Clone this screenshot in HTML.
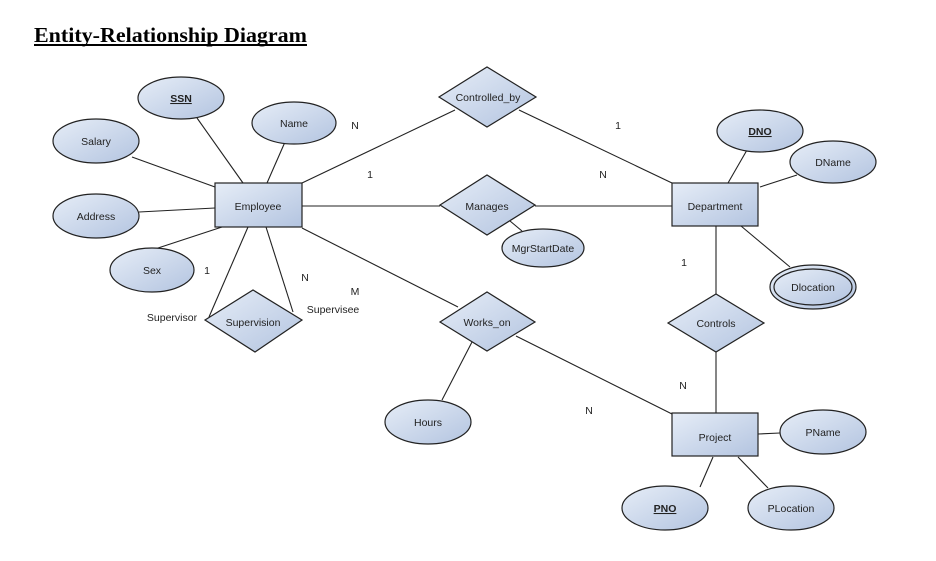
<!DOCTYPE html>
<html><head><meta charset="utf-8"><style>
html,body{margin:0;padding:0;background:#fff;}
svg{display:block;}
text{font-family:"Liberation Sans",sans-serif;font-size:10.5px;fill:#222;}
</style></head><body>
<svg width="936" height="561" viewBox="0 0 936 561" xmlns="http://www.w3.org/2000/svg">
<defs>
<linearGradient id="g" x1="0" y1="0" x2="1" y2="1">
<stop offset="0" stop-color="#e6edf7"/><stop offset="1" stop-color="#b3c4e0"/>
</linearGradient>
</defs>
<text x="34" y="42" style="font-family:'Liberation Serif',serif;font-size:21px;font-weight:bold;fill:#000" textLength="273" lengthAdjust="spacingAndGlyphs">Entity-Relationship Diagram</text>
<line x1="34" y1="45" x2="307" y2="45" stroke="#000" stroke-width="2"/>
<g stroke="#222" stroke-width="1.1" fill="none">
<line x1="302" y1="183" x2="455" y2="110"/>
<line x1="519" y1="110" x2="672" y2="183"/>
<line x1="302" y1="206" x2="440" y2="206"/>
<line x1="535" y1="206" x2="672" y2="206"/>
<line x1="510" y1="221" x2="522" y2="231"/>
<line x1="302" y1="228" x2="458" y2="307"/>
<line x1="516" y1="336" x2="672" y2="414"/>
<line x1="472" y1="342" x2="442" y2="400"/>
<line x1="716" y1="226" x2="716" y2="294"/>
<line x1="716" y1="352" x2="716" y2="413"/>
<line x1="248" y1="227" x2="209" y2="317"/>
<line x1="266" y1="227" x2="293" y2="312"/>
<line x1="155" y1="249" x2="222" y2="227"/>
<line x1="132" y1="157" x2="215" y2="187"/>
<line x1="139" y1="212" x2="215" y2="208"/>
<line x1="197" y1="118" x2="243" y2="183"/>
<line x1="285" y1="142" x2="267" y2="183"/>
<line x1="747" y1="150" x2="728" y2="183"/>
<line x1="797" y1="175" x2="760" y2="187"/>
<line x1="741" y1="226" x2="790" y2="267"/>
<line x1="780" y1="433" x2="758" y2="434"/>
<line x1="700" y1="487" x2="713" y2="457"/>
<line x1="768" y1="488" x2="738" y2="457"/>
</g>
<g stroke="#222" stroke-width="1.2" fill="url(#g)">
<ellipse cx="181" cy="98" rx="43" ry="21"/>
<ellipse cx="294" cy="123" rx="42" ry="21"/>
<ellipse cx="96" cy="141" rx="43" ry="22"/>
<ellipse cx="96" cy="216" rx="43" ry="22"/>
<ellipse cx="152" cy="270" rx="42" ry="22"/>
<ellipse cx="760" cy="131" rx="43" ry="21"/>
<ellipse cx="833" cy="162" rx="43" ry="21"/>
<ellipse cx="813" cy="287" rx="43" ry="22"/>
<ellipse cx="813" cy="287" rx="39" ry="18"/>
<ellipse cx="543" cy="248" rx="41" ry="19"/>
<ellipse cx="428" cy="422" rx="43" ry="22"/>
<ellipse cx="823" cy="432" rx="43" ry="22"/>
<ellipse cx="665" cy="508" rx="43" ry="22"/>
<ellipse cx="791" cy="508" rx="43" ry="22"/>
<polygon points="439,97 487,67 536,97 487,127"/>
<polygon points="440,205 487,175 535,205 487,235"/>
<polygon points="440,322 487,292 535,322 487,351"/>
<polygon points="668,323 716,294 764,323 716,352"/>
<polygon points="205,320 253,290 302,320 255,352"/>
<rect x="215" y="183" width="87" height="44"/>
<rect x="672" y="183" width="86" height="43"/>
<rect x="672" y="413" width="86" height="43"/>
</g>
<g text-anchor="middle">
<text x="181" y="102" font-weight="bold" text-decoration="underline">SSN</text>
<text x="294" y="127">Name</text>
<text x="96" y="145">Salary</text>
<text x="96" y="220">Address</text>
<text x="152" y="274">Sex</text>
<text x="760" y="135" font-weight="bold" text-decoration="underline">DNO</text>
<text x="833" y="166">DName</text>
<text x="813" y="291">Dlocation</text>
<text x="543" y="252">MgrStartDate</text>
<text x="428" y="426">Hours</text>
<text x="823" y="436">PName</text>
<text x="665" y="512" font-weight="bold" text-decoration="underline">PNO</text>
<text x="791" y="512">PLocation</text>
<text x="488" y="101">Controlled_by</text>
<text x="487" y="210">Manages</text>
<text x="487" y="326">Works_on</text>
<text x="716" y="327">Controls</text>
<text x="253" y="326">Supervision</text>
<text x="258" y="210">Employee</text>
<text x="715" y="210">Department</text>
<text x="715" y="441">Project</text>
<text x="355" y="129">N</text>
<text x="370" y="178">1</text>
<text x="618" y="129">1</text>
<text x="603" y="178">N</text>
<text x="207" y="274">1</text>
<text x="305" y="281">N</text>
<text x="355" y="295">M</text>
<text x="172" y="321">Supervisor</text>
<text x="333" y="313">Supervisee</text>
<text x="684" y="266">1</text>
<text x="683" y="389">N</text>
<text x="589" y="414">N</text>
</g>
</svg>
</body></html>
